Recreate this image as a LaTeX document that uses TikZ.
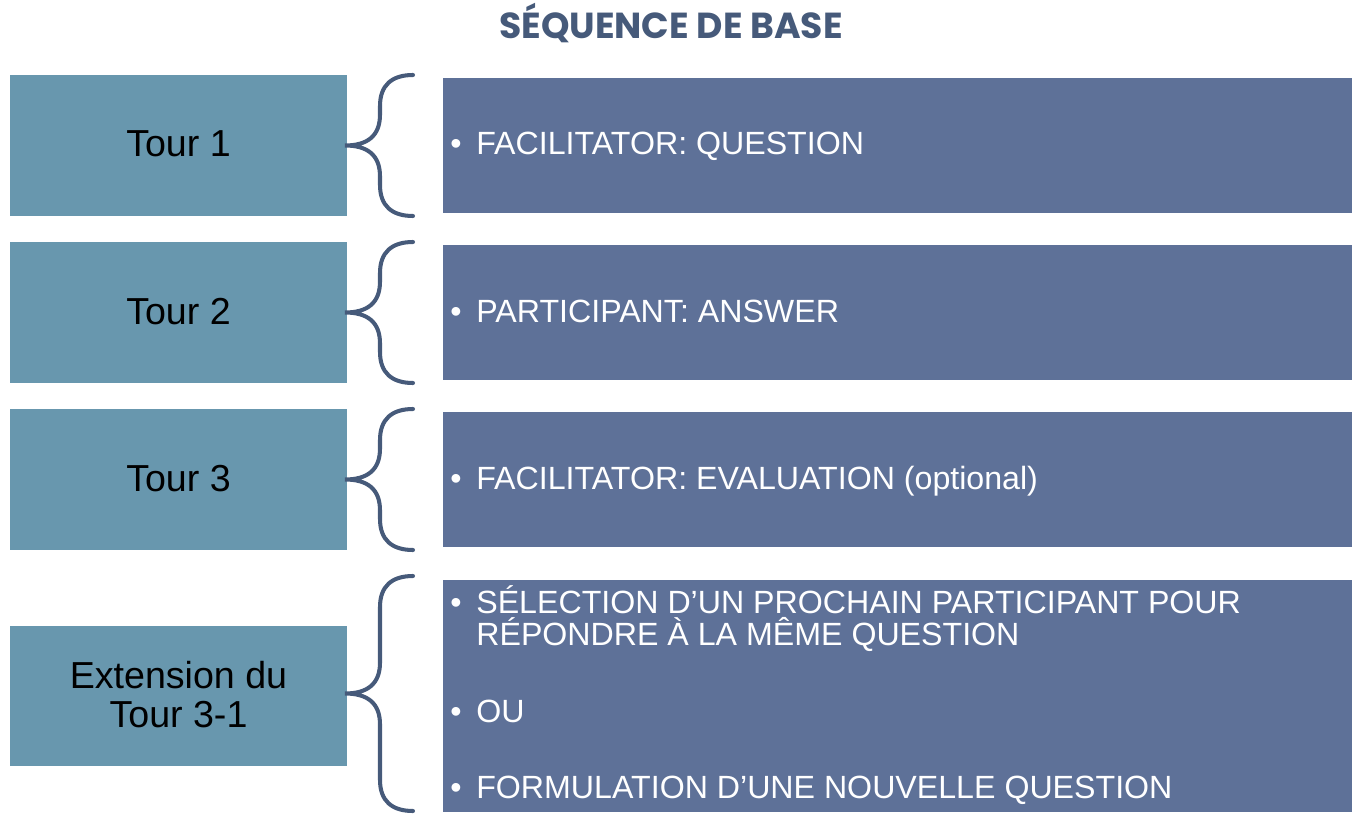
\documentclass[tikz,border=0pt]{standalone}
\usepackage{fontspec}
\setmainfont{Liberation Sans}
\newfontfamily\titlefont{Poppins}
\usetikzlibrary{positioning}

\definecolor{tourcol}{HTML}{6897AE}
\definecolor{itemcol}{HTML}{5E7198}
\definecolor{slate}{HTML}{465A7A}

\tikzset{
	tourbox/.style={fill=tourcol, minimum width=6.74cm, minimum height=2.82cm, inner sep=0pt},
	itembox/.style={fill=itemcol, minimum width=18.18cm, minimum height=2.7cm, inner sep=0pt},
	tourtext/.style={inner sep=0pt, anchor=base, align=center, font=\fontsize{21.4}{22}\selectfont},
	itemtext/.style={inner sep=0pt, anchor=base west, text=white, font=\fontsize{18.3}{21}\selectfont},
	accolade/.style={draw=slate, line width=2.3pt, line cap=round}
}

\newcommand{\puce}{\makebox[0.52cm][l]{\textbullet}}

% brace between a tour box and its item box
\newcommand{\accolade}[2]{%
	\pgfmathsetmacro{\milieu}{(#1+#2)/2}
	\draw[accolade] (413,#1) .. controls (392,#1) and (380,#1+10) .. (380,#1+31)
		-- (380,\milieu-31) .. controls (380,\milieu-10) and (368,\milieu) .. (345,\milieu)
		.. controls (368,\milieu) and (380,\milieu+10) .. (380,\milieu+31)
		-- (380,#2-31) .. controls (380,#2-10) and (392,#2) .. (413,#2);
}

\begin{document}
\begin{tikzpicture}[x=0.02cm, y=-0.02cm]
	\useasboundingbox (0,0) rectangle (1358,814);

	\node[inner sep=0pt, anchor=base, text=slate, font=\titlefont\bfseries\fontsize{20.6}{21}\selectfont] (titre) at (671,39) {SÉQUENCE DE BASE};

	\node[tourbox] (T1) at (178.5,145.5) {};
	\node[tourbox] (T2) at (178.5,312.5) {};
	\node[tourbox] (T3) at (178.5,479.5) {};
	\node[tourbox] (T4) at (178.5,696) {};

	\node[itembox] (I1) at (897.5,145.5) {};
	\node[itembox] (I2) at (897.5,312.5) {};
	\node[itembox] (I3) at (897.5,479.5) {};
	\node[itembox, minimum height=4.64cm] (I4) at (897.5,696) {};

	\node[tourtext] (t1) at (178.5,157) {Tour 1};
	\node[tourtext] (t2) at (178.5,324) {Tour 2};
	\node[tourtext] (t3) at (178.5,491) {Tour 3};
	\node[tourtext] (t4a) at (178.5,688) {Extension du};
	\node[tourtext] (t4b) at (178.5,727) {Tour 3-1};

	\node[itemtext] (i1) at (450,155) {\puce FACILITATOR: QUESTION};
	\node[itemtext] (i2) at (450,322) {\puce PARTICIPANT: ANSWER};
	\node[itemtext] (i3) at (450,489) {\puce FACILITATOR: EVALUATION (optional)};
	\node[itemtext] (i4a) at (450,613) {\puce SÉLECTION D’UN PROCHAIN PARTICIPANT POUR};
	\node[itemtext] (i4b) at (476,645) {RÉPONDRE À LA MÊME QUESTION};
	\node[itemtext] (i4c) at (450,722) {\puce OU};
	\node[itemtext] (i4d) at (450,798) {\puce FORMULATION D’UNE NOUVELLE QUESTION};

	\accolade{75}{216}
	\accolade{242}{383}
	\accolade{409}{550}
	\accolade{576}{811}
\end{tikzpicture}
\end{document}
